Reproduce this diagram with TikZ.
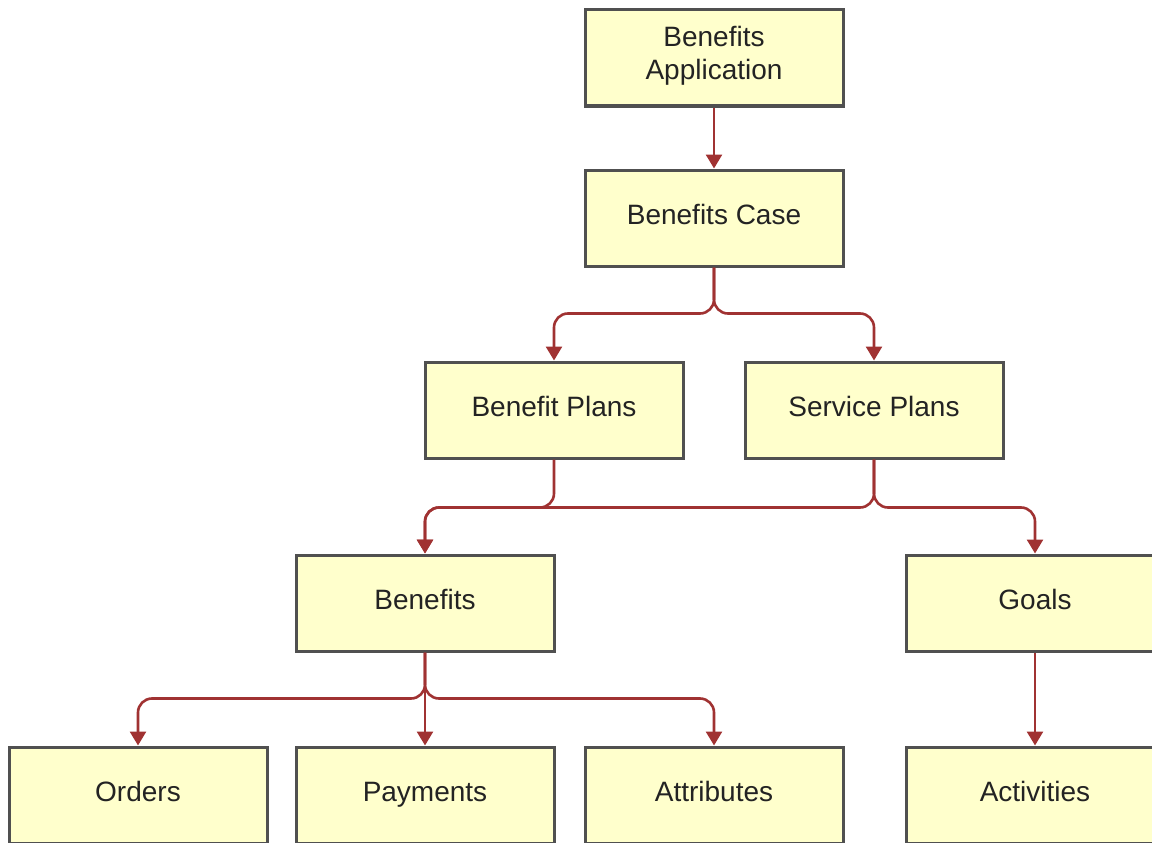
\documentclass[tikz,border=0pt]{standalone}
\usepackage{fontspec}
\setmainfont{Liberation Sans}
\usetikzlibrary{arrows.meta}

\definecolor{boxfill}{RGB}{255,255,204}
\definecolor{boxline}{RGB}{80,80,80}
\definecolor{linkred}{RGB}{160,50,50}
\definecolor{boxtext}{RGB}{35,35,35}

\begin{document}
\begin{tikzpicture}[> = {Triangle[length = 14pt, width = 16pt]}, x = 1pt, y = -1pt,
	box/.style = {draw = boxline, fill = boxfill, line width = 3pt, minimum width = 258pt,
		minimum height = 96pt, align = center, text = boxtext,
		font = \fontsize{28}{33}\selectfont, execute at begin node = \strut},
	link/.style = {->, draw = linkred, line width = 2.6pt, rounded corners = 14pt}]

	\useasboundingbox (0, 0) rectangle (1152, 843);

	\node [box] (app) at (714, 58) {Benefits\\Application};
	\node [box] (case) at (714, 218) {Benefits Case};

	\node [box] (bplans) at (554, 410) {Benefit Plans};
	\node [box] (splans) at (874, 410) {Service Plans};

	\node [box] (benefits) at (425, 603) {Benefits};
	\node [box] (goals) at (1035, 603) {Goals};

	\node [box] (orders) at (138, 795) {Orders};
	\node [box] (payments) at (425, 795) {Payments};
	\node [box] (attributes) at (714, 795) {Attributes};
	\node [box] (activities) at (1035, 795) {Activities};

	\draw [link] (app) -- (case);

	\draw [link] (case.south) -- ++(0, 46) -| (bplans.north);
	\draw [link] (case.south) -- ++(0, 46) -| (splans.north);

	\draw [link] (bplans.south) -- ++(0, 48) -| (benefits.north);
	\draw [link] (splans.south) -- ++(0, 48) -| (benefits.north);
	\draw [link] (splans.south) -- ++(0, 48) -| (goals.north);

	\draw [link] (benefits.south) -- ++(0, 46) -| (orders.north);
	\draw [link] (benefits) -- (payments);
	\draw [link] (benefits.south) -- ++(0, 46) -| (attributes.north);

	\draw [link] (goals) -- (activities);

\end{tikzpicture}
\end{document}
